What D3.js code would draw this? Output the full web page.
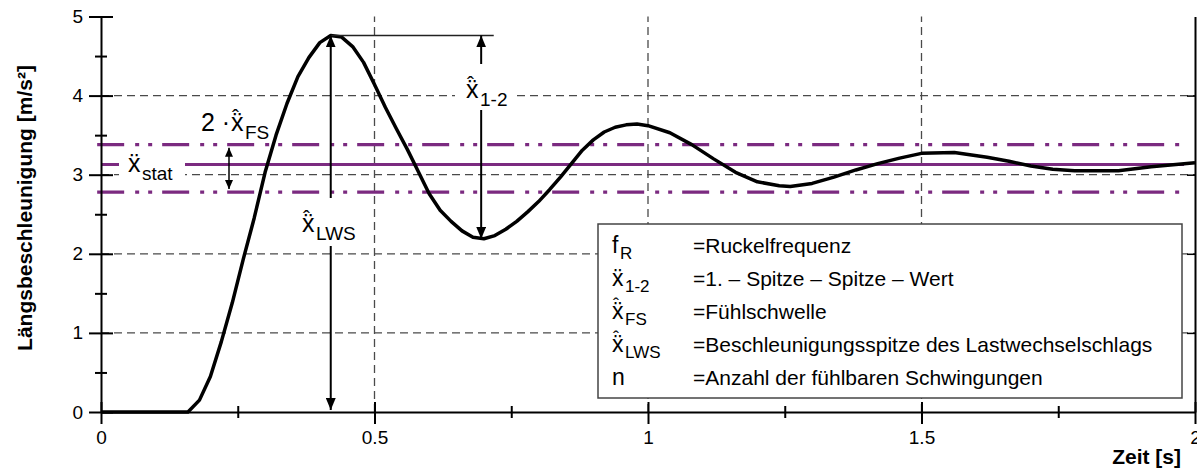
<!DOCTYPE html>
<html>
<head>
<meta charset="utf-8">
<script src="https://cdn.jsdelivr.net/npm/d3@7"></script>
<style>
  body { margin: 0; background: #fff; }
  text { font-family: "Liberation Sans", Arial, sans-serif; fill: #000; }
</style>
</head>
<body>
<svg id="chart" width="1197" height="469"></svg>
<script>
// measured curve (time in s, acceleration in m/s²)
const timeS = [0, 0.159, 0.18, 0.20, 0.22, 0.24, 0.26, 0.28, 0.30, 0.32, 0.34, 0.36, 0.38, 0.40, 0.42,
  0.44, 0.46, 0.48, 0.50, 0.52, 0.54, 0.56, 0.58, 0.60, 0.62, 0.64, 0.66, 0.68, 0.70, 0.72, 0.74,
  0.76, 0.78, 0.80, 0.82, 0.84, 0.86, 0.88, 0.90, 0.92, 0.94, 0.96, 0.98, 1.00, 1.04, 1.08, 1.12,
  1.16, 1.20, 1.24, 1.26, 1.30, 1.34, 1.38, 1.42, 1.46, 1.50, 1.56, 1.62, 1.66, 1.70, 1.74, 1.78,
  1.86, 1.92, 2.00];
const accel = [0, 0, 0.15, 0.45, 0.89, 1.38, 1.93, 2.45, 3.03, 3.5, 3.9, 4.24, 4.48, 4.67, 4.76,
  4.74, 4.62, 4.42, 4.14, 3.85, 3.58, 3.32, 3.04, 2.76, 2.55, 2.41, 2.29, 2.21, 2.19, 2.23, 2.31,
  2.41, 2.53, 2.66, 2.81, 2.97, 3.14, 3.31, 3.44, 3.54, 3.6, 3.63, 3.64, 3.62, 3.53, 3.38, 3.2,
  3.03, 2.91, 2.86, 2.85, 2.89, 2.97, 3.06, 3.14, 3.21, 3.27, 3.28, 3.22, 3.17, 3.11, 3.07, 3.05,
  3.05, 3.1, 3.15];

const xTicks = [0, 0.25, 0.5, 0.75, 1, 1.25, 1.5, 1.75, 2];
const yTicks = [0, 0.5, 1, 1.5, 2, 2.5, 3, 3.5, 4, 4.5, 5];
const xGrid = [0.5, 1, 1.5];
const yGrid = [1, 2, 3, 4];

// reference levels
const aStat = 3.13;
const fsBand = [3.38, 2.78];
const lineRange = [-0.007, 1.98];

// peak / trough used by the annotations
const peakT = 0.42, peakA = 4.76;
const troughT = 0.695, troughA = 2.19;
const peakLineEnd = 0.718;
const fsArrowT = 0.234;

const legendSymbols = ["f", "ẍ", "ẍ", "ẍ", "n"];
const legendHats = [false, false, true, true, false];
const legendSubs = ["R", "1-2", "FS", "LWS", ""];
const legendTexts = ["=Ruckelfrequenz", "=1. – Spitze – Spitze – Wert", "=Fühlschwelle",
  "=Beschleunigungsspitze des Lastwechselschlags", "=Anzahl der fühlbaren Schwingungen"];

const purple = "#7b2a80";
const gridCol = "#4a4a4a";

const svg = d3.select("#chart");
svg.append("rect").attr("width", 1197).attr("height", 469).attr("fill", "#fff");

const x = d3.scaleLinear().domain([0, 2]).range([101, 1195]);
const y = d3.scaleLinear().domain([0, 5]).range([412, 16.5]);

// grid
svg.append("g").selectAll("line").data(yGrid).enter().append("line")
  .attr("x1", x(0)).attr("x2", x(2))
  .attr("y1", d => y(d)).attr("y2", d => y(d))
  .attr("stroke", gridCol).attr("stroke-width", 1.3).attr("stroke-dasharray", "8,5");
svg.append("g").selectAll("line").data(xGrid).enter().append("line")
  .attr("x1", d => x(d)).attr("x2", d => x(d))
  .attr("y1", y(0)).attr("y2", y(5))
  .attr("stroke", gridCol).attr("stroke-width", 1.3).attr("stroke-dasharray", "8,5");

// legend box
const lg = svg.append("g");
lg.append("rect").attr("x", 598).attr("y", 224).attr("width", 584).attr("height", 174)
  .attr("fill", "#fff").attr("stroke", "#444").attr("stroke-width", 1.5);
legendTexts.forEach((t, i) => {
  const by = 253 + i * 33;
  lg.append("text").attr("x", 612).attr("y", by).attr("font-size", 23).text(legendSymbols[i]);
  if (legendHats[i]) lg.append("text").attr("x", 613).attr("y", by - 8).attr("font-size", 18).text("ˆ");
  if (legendSubs[i]) lg.append("text").attr("x", legendSymbols[i] === "f" ? 620 : 625).attr("y", by + 6)
    .attr("font-size", 17).text(legendSubs[i]);
  lg.append("text").attr("x", 693).attr("y", by).attr("font-size", 21).text(t);
});

// purple reference lines
const ref = svg.append("g");
fsBand.forEach(v => {
  ref.append("line").attr("x1", x(lineRange[0])).attr("x2", x(lineRange[1]))
    .attr("y1", y(v)).attr("y2", y(v))
    .attr("stroke", purple).attr("stroke-width", 3.2).attr("stroke-dasharray", "27,11,4,9,4,10");
});
ref.append("line").attr("x1", x(0)).attr("x2", x(lineRange[1]))
  .attr("y1", y(aStat)).attr("y2", y(aStat))
  .attr("stroke", purple).attr("stroke-width", 3);

// curve
const line = d3.line().x(d => x(d[0])).y(d => y(d[1]));
svg.append("path").datum(d3.zip(timeS, accel)).attr("d", line)
  .attr("fill", "none").attr("stroke", "#000").attr("stroke-width", 3.5).attr("stroke-linejoin", "round");

// arrow markers
const defs = svg.append("defs");
defs.append("marker").attr("id", "ah").attr("viewBox", "0 0 12 10").attr("refX", 12).attr("refY", 5)
  .attr("markerWidth", 12).attr("markerHeight", 10).attr("markerUnits", "userSpaceOnUse")
  .attr("orient", "auto-start-reverse")
  .append("path").attr("d", "M0,0L12,5L0,10Z").attr("fill", "#000");
defs.append("marker").attr("id", "as").attr("viewBox", "0 0 9 8").attr("refX", 9).attr("refY", 4)
  .attr("markerWidth", 9).attr("markerHeight", 8).attr("markerUnits", "userSpaceOnUse")
  .attr("orient", "auto-start-reverse")
  .append("path").attr("d", "M0,0L9,4L0,8Z").attr("fill", "#000");

const ann = svg.append("g");
ann.append("line").attr("x1", x(peakT)).attr("x2", x(peakLineEnd)).attr("y1", y(peakA)).attr("y2", y(peakA))
  .attr("stroke", "#222").attr("stroke-width", 1.5);
ann.append("line").attr("x1", x(peakT)).attr("x2", x(peakT)).attr("y1", y(0) - 2).attr("y2", y(peakA))
  .attr("stroke", "#000").attr("stroke-width", 2)
  .attr("marker-start", "url(#ah)").attr("marker-end", "url(#ah)");
ann.append("line").attr("x1", x(troughT)).attr("x2", x(troughT)).attr("y1", y(peakA)).attr("y2", y(troughA))
  .attr("stroke", "#000").attr("stroke-width", 2)
  .attr("marker-start", "url(#ah)").attr("marker-end", "url(#ah)");
ann.append("line").attr("x1", x(fsArrowT)).attr("x2", x(fsArrowT)).attr("y1", y(fsBand[0]) + 3).attr("y2", y(fsBand[1]) - 3)
  .attr("stroke", "#000").attr("stroke-width", 1.5)
  .attr("marker-start", "url(#as)").attr("marker-end", "url(#as)");

// label backgrounds
[[298, 198, 64, 48], [455, 64, 59, 46], [119, 150, 66, 39]].forEach(b => {
  ann.append("rect").attr("x", b[0]).attr("y", b[1]).attr("width", b[2]).attr("height", b[3]).attr("fill", "#fff");
});

function xLabel(px, by, sub, hat, pre) {
  let x0 = px;
  if (pre) {
    ann.append("text").attr("x", px).attr("y", by).attr("font-size", 25).text(pre);
    x0 = px + 30;
  }
  ann.append("text").attr("x", x0).attr("y", by).attr("font-size", 25).text("ẍ");
  if (hat) ann.append("text").attr("x", x0 + 1).attr("y", by - 7).attr("font-size", 21).text("ˆ");
  ann.append("text").attr("x", x0 + 14).attr("y", by + 8).attr("font-size", 19).text(sub);
}
xLabel(201, 131, "FS", true, "2 ·");
xLabel(128, 172, "stat", false);
xLabel(302, 232, "LWS", true);
xLabel(466, 98, "1-2", true);

// axes
const ya = svg.append("g").attr("transform", `translate(${x(0)},0)`)
  .call(d3.axisLeft(y).tickValues(yTicks).tickSize(12).tickSizeOuter(0).tickPadding(6)
    .tickFormat(d => Number.isInteger(d) ? d : ""));
ya.selectAll(".tick line").attr("x1", d => Number.isInteger(d) ? 12 : 6).attr("x2", d => Number.isInteger(d) ? -12 : -6)
  .attr("stroke-width", 2);
ya.select(".domain").attr("stroke-width", 2);
ya.selectAll("text").attr("font-size", 19).attr("font-family", "Liberation Sans, Arial, sans-serif");

const xa = svg.append("g").attr("transform", `translate(0,${y(0)})`)
  .call(d3.axisBottom(x).tickValues(xTicks).tickSize(12).tickSizeOuter(0).tickPadding(7)
    .tickFormat(d => (d * 2) % 1 === 0 ? d : ""));
xa.selectAll(".tick line").attr("y1", d => (d * 2) % 1 === 0 ? -10 : -6).attr("y2", d => (d * 2) % 1 === 0 ? 12 : 6)
  .attr("stroke-width", 2);
xa.select(".domain").attr("stroke-width", 2);
xa.selectAll("text").attr("font-size", 19).attr("font-family", "Liberation Sans, Arial, sans-serif");

const ra = svg.append("g").attr("transform", `translate(${x(2)},0)`)
  .call(d3.axisLeft(y).tickValues([1, 2, 3, 4]).tickSize(-8).tickSizeOuter(0).tickFormat(""));
ra.selectAll(".tick line").attr("x2", -8).attr("stroke-width", 1.5);
ra.select(".domain").attr("stroke-width", 2);

// axis titles
svg.append("text").attr("transform", "translate(32,208) rotate(-90)").attr("text-anchor", "middle")
  .attr("font-size", 21).attr("font-weight", "bold").text("Längsbeschleunigung [m/s²]");
svg.append("text").attr("x", 1181).attr("y", 464).attr("text-anchor", "end")
  .attr("font-size", 21).attr("font-weight", "bold").text("Zeit [s]");
</script>
</body>
</html>
